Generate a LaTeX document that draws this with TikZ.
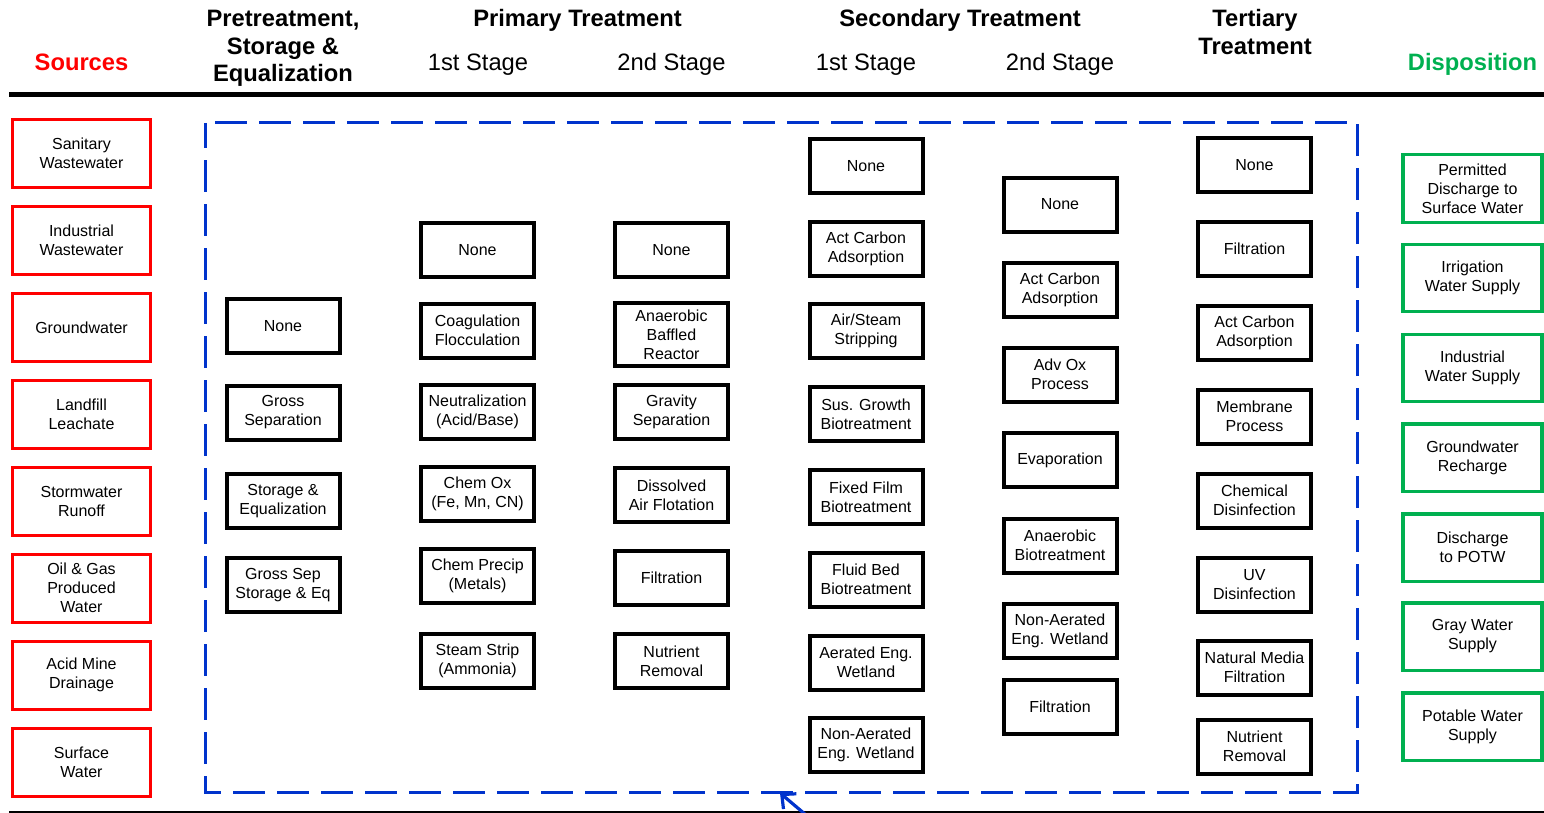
\documentclass[tikz,border=0pt]{standalone}
\usepackage{fontspec}
\setmainfont{Liberation Sans}
\usetikzlibrary{arrows.meta}
\definecolor{srcred}{RGB}{255,0,0}
\definecolor{dispgreen}{RGB}{0,176,80}
\definecolor{dashblue}{RGB}{0,51,204}
\begin{document}
\begin{tikzpicture}[x=0.75pt,y=-0.75pt,
 boxtext/.style={font=\fontsize{12}{14.25}\selectfont, align=center, inner sep=0pt},
 srcbox/.style={boxtext, draw=srcred, line width=2.25pt, minimum width=103.5pt, minimum height=51pt},
 dispbox/.style={boxtext, draw=dispgreen, line width=2.6pt, minimum width=104pt, minimum height=50.6pt},
 procbox/.style={boxtext, draw=black, line width=3pt, minimum width=84.75pt, minimum height=40.5pt},
 tallbox/.style={procbox, minimum height=47.25pt},
 hdr/.style={font=\fontsize{17.8}{21}\selectfont\bfseries, anchor=base, inner sep=0pt},
 stagelbl/.style={font=\fontsize{17.8}{21}\selectfont, anchor=base, inner sep=0pt},
]
\useasboundingbox (0,0) rectangle (1544,813);

% headers
\node[hdr, text=srcred] (hSrc) at (81.5,71) {Sources};
\node[hdr] (hPreA) at (283,27) {Pretreatment,};
\node[hdr] (hPreB) at (283,54.5) {Storage \&};
\node[hdr] (hPreC) at (283,82) {Equalization};
\node[hdr] (hPri) at (577.5,27) {Primary Treatment};
\node[hdr] (hSec) at (960,27) {Secondary Treatment};
\node[hdr] (hTerA) at (1255,27) {Tertiary};
\node[hdr] (hTerB) at (1255,54.5) {Treatment};
\node[hdr, text=dispgreen] (hDisp) at (1472.5,71) {Disposition};
\node[stagelbl] (sA) at (478,71) {1st Stage};
\node[stagelbl] (sB) at (671.5,71) {2nd Stage};
\node[stagelbl] (sC) at (866,71) {1st Stage};
\node[stagelbl] (sD) at (1060,71) {2nd Stage};

% rules
\coordinate (topL) at (9,95);
\coordinate (topR) at (1544,95);
\draw[line width=3.75pt] (topL) -- (topR);
\coordinate (botL) at (9,812);
\coordinate (botR) at (1544,812);
\draw[line width=1.1pt] (botL) -- (botR);

% dashed frame
\coordinate (frA) at (205,123);
\coordinate (frB) at (1357.5,792);
\draw[dashblue, line width=2.25pt, dash pattern=on 24pt off 9pt, dash phase=5pt] (frA) rectangle (frB);

% arrow
\coordinate (arEnd) at (806,815);
\coordinate (arTip) at (780,793);
\draw[dashblue, line width=2.4pt, -{Straight Barb[length=8pt, width=15pt]}] (arEnd) -- (arTip);

% sources
\node[srcbox] (src1) at (81.5,153.5) {Sanitary\\Wastewater};
\node[srcbox] (src2) at (81.5,240.5) {Industrial\\Wastewater};
\node[srcbox] (src3) at (81.5,327.5) {Groundwater};
\node[srcbox] (src4) at (81.5,414.5) {Landfill\\Leachate};
\node[srcbox] (src5) at (81.5,501.5) {Stormwater\\Runoff};
\node[srcbox] (src6) at (81.5,588) {Oil \& Gas\\Produced\\Water};
\node[srcbox] (src7) at (81.5,675) {Acid Mine\\Drainage};
\node[srcbox] (src8) at (81.5,762) {Surface\\Water};

% disposition
\node[dispbox] (dsp1) at (1472.5,188.5) {Permitted\\Discharge to\\Surface Water};
\node[dispbox] (dsp2) at (1472.5,278) {Irrigation\\Water Supply};
\node[dispbox] (dsp3) at (1472.5,368) {Industrial\\Water Supply};
\node[dispbox] (dsp4) at (1472.5,457.5) {Groundwater\\Recharge};
\node[dispbox] (dsp5) at (1472.5,547.5) {Discharge\\to POTW};
\node[dispbox] (dsp6) at (1472.5,636.5) {Gray Water\\Supply};
\node[dispbox] (dsp7) at (1472.5,726.5) {Potable Water\\Supply};

% pretreatment
\node[procbox] (pa1) at (283,326) {None};
\node[procbox] (pa2) at (283,412.5) {Gross\\Separation};
\node[procbox] (pa3) at (283,501) {Storage \&\\Equalization};
\node[procbox] (pa4) at (283,585) {Gross Sep\\Storage \& Eq};

% primary 1st
\node[procbox] (pb1) at (477.5,250) {None};
\node[procbox] (pb2) at (477.5,330.5) {Coagulation\\Flocculation};
\node[procbox] (pb3) at (477.5,412) {Neutralization\\(Acid/Base)};
\node[procbox] (pb4) at (477.5,494) {Chem Ox\\(Fe, Mn, CN)};
\node[procbox] (pb5) at (477.5,576) {Chem Precip\\(Metals)};
\node[procbox] (pb6) at (477.5,660.5) {Steam Strip\\(Ammonia)};

% primary 2nd
\node[procbox] (pc1) at (671.5,250) {None};
\node[tallbox] (pc2) at (671.5,334.5) {Anaerobic\\Baffled\\Reactor};
\node[procbox] (pc3) at (671.5,412) {Gravity\\Separation};
\node[procbox] (pc4) at (671.5,495) {Dissolved\\Air Flotation};
\node[procbox] (pc5) at (671.5,578) {Filtration};
\node[procbox] (pc6) at (671.5,661) {Nutrient\\Removal};

% secondary 1st
\node[procbox] (pd1) at (866,166) {None};
\node[procbox] (pd2) at (866,248.5) {Act Carbon\\Adsorption};
\node[procbox] (pd3) at (866,331) {Air/Steam\\Stripping};
\node[procbox] (pd4) at (866,414) {Sus. Growth\\Biotreatment};
\node[procbox] (pd5) at (866,497) {Fixed Film\\Biotreatment};
\node[procbox] (pd6) at (866,579.5) {Fluid Bed\\Biotreatment};
\node[procbox] (pd7) at (866,662.5) {Aerated Eng.\\Wetland};
\node[procbox] (pd8) at (866,745) {Non-Aerated\\Eng. Wetland};

% secondary 2nd
\node[procbox] (pe1) at (1060,204.5) {None};
\node[procbox] (pe2) at (1060,289.5) {Act Carbon\\Adsorption};
\node[procbox] (pe3) at (1060,374.5) {Adv Ox\\Process};
\node[procbox] (pe4) at (1060,460) {Evaporation};
\node[procbox] (pe5) at (1060,545.5) {Anaerobic\\Biotreatment};
\node[procbox] (pe6) at (1060,630.5) {Non-Aerated\\Eng. Wetland};
\node[procbox] (pe7) at (1060,706.5) {Filtration};

% tertiary
\node[procbox] (pf1) at (1254.5,165) {None};
\node[procbox] (pf2) at (1254.5,248.5) {Filtration};
\node[procbox] (pf3) at (1254.5,332.5) {Act Carbon\\Adsorption};
\node[procbox] (pf4) at (1254.5,416.5) {Membrane\\Process};
\node[procbox] (pf5) at (1254.5,500.5) {Chemical\\Disinfection};
\node[procbox] (pf6) at (1254.5,584.5) {UV\\Disinfection};
\node[procbox] (pf7) at (1254.5,667.5) {Natural Media\\Filtration};
\node[procbox] (pf8) at (1254.5,746.5) {Nutrient\\Removal};
\end{tikzpicture}
\end{document}
